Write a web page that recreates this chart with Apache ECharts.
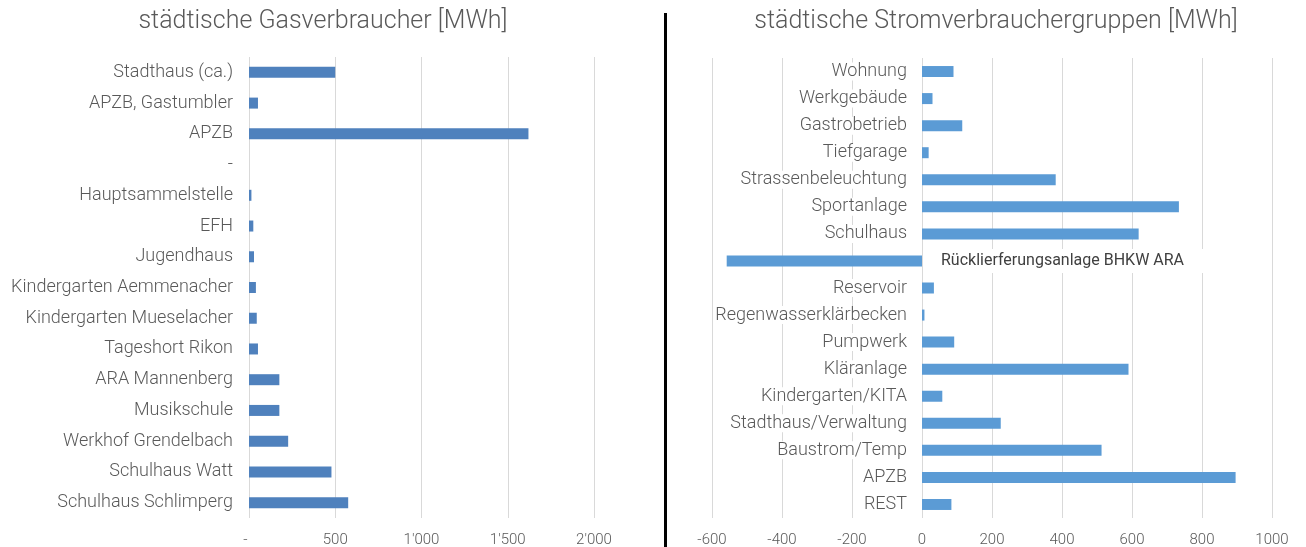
<!DOCTYPE html>
<html>
<head>
<meta charset="utf-8">
<script src="https://cdn.jsdelivr.net/npm/echarts@6/dist/echarts.min.js"></script>
<style>
  html, body { margin: 0; padding: 0; background: #fff; }
  #chart { width: 1306px; height: 547px; }
</style>
</head>
<body>
<div id="chart"></div>
<script>
// Gasverbraucher (von oben nach unten)
var gasNamen = ['Stadthaus (ca.)', 'APZB, Gastumbler', 'APZB', '-', 'Hauptsammelstelle', 'EFH',
    'Jugendhaus', 'Kindergarten Aemmenacher', 'Kindergarten Mueselacher', 'Tageshort Rikon',
    'ARA Mannenberg', 'Musikschule', 'Werkhof Grendelbach', 'Schulhaus Watt', 'Schulhaus Schlimperg'];
var gasWerte = [500, 52, 1620, 0, 14, 25, 29, 40, 45, 52, 176, 176, 227, 478, 575];

// Stromverbrauchergruppen (von oben nach unten)
var stromNamen = ['Wohnung', 'Werkgebäude', 'Gastrobetrieb', 'Tiefgarage', 'Strassenbeleuchtung',
    'Sportanlage', 'Schulhaus', 'Rücklierferungsanlage BHKW ARA', 'Reservoir', 'Regenwasserklärbecken',
    'Pumpwerk', 'Kläranlage', 'Kindergarten/KITA', 'Stadthaus/Verwaltung', 'Baustrom/Temp', 'APZB', 'REST'];
var stromWerte = [90, 30, 115, 19, 382, 734, 619, -558, 34, 7, 92, 590, 58, 225, 513, 896, 84];

var grau = '#595959';
var schrift = 'Roboto';

var stromMin = -600, stromMax = 1000, stromBreite = 560;

var chart = echarts.init(document.getElementById('chart'));

function tausender(v) { //1'000 Schreibweise, 0 als "-"
    if (v === 0) return '-  ';
    return String(v).replace(/\B(?=(\d{3})+(?!\d))/g, "'");
}

var stromDaten = stromWerte.map(function (v, i) {
    if (v < 0) { //Beschriftung der negativen Kategorie rechts der Nulllinie
        return {
            value: v,
            label: {
                show: true,
                position: 'right',
                distance: 1,
                formatter: stromNamen[i],
                color: '#404040',
                fontFamily: schrift,
                fontSize: 16,
                backgroundColor: '#fff',
                padding: [4, 20, 4, 18]
            }
        };
    }
    return v;
});

var option = {
    animation: false,
    title: [
        {
            text: 'städtische Gasverbraucher [MWh]',
            left: 318, top: 4, textAlign: 'center',
            textStyle: { color: grau, fontFamily: schrift, fontWeight: 300, fontSize: 25 }
        },
        {
            text: 'städtische Stromverbrauchergruppen [MWh]',
            left: 991, top: 4, textAlign: 'center',
            textStyle: { color: grau, fontFamily: schrift, fontWeight: 300, fontSize: 25 }
        }
    ],
    grid: [
        { left: 249, top: 57, width: 345, height: 461, outerBoundsMode: 'none' },
        { left: 712, top: 58, width: stromBreite, height: 460, outerBoundsMode: 'none' }
    ],
    xAxis: [
        {
            gridIndex: 0, type: 'value', min: 0, max: 2000, interval: 500,
            axisLine: { show: false }, axisTick: { show: false },
            splitLine: { lineStyle: { color: '#d9d9d9' } },
            axisLabel: { color: grau, fontFamily: schrift, fontWeight: 300, fontSize: 15, margin: 15, formatter: tausender }
        },
        {
            gridIndex: 1, type: 'value', min: stromMin, max: stromMax, interval: 200,
            axisLine: { show: false }, axisTick: { show: false },
            splitLine: { lineStyle: { color: '#d9d9d9' } },
            axisLabel: { color: grau, fontFamily: schrift, fontWeight: 300, fontSize: 15, margin: 15,
                formatter: function (v) { return String(v); } }
        }
    ],
    yAxis: [
        {
            gridIndex: 0, type: 'category', inverse: true, data: gasNamen,
            axisLine: { show: false }, axisTick: { show: false },
            axisLabel: { color: grau, fontFamily: schrift, fontWeight: 300, fontSize: 18, margin: 16 }
        },
        {
            gridIndex: 1, type: 'category', inverse: true, data: stromNamen,
            // Achse an die Nulllinie schieben
            offset: -(0 - stromMin) / (stromMax - stromMin) * stromBreite,
            z: 5,
            axisLine: { show: false }, axisTick: { show: false },
            axisLabel: {
                color: grau, fontFamily: schrift, fontWeight: 300, fontSize: 18, margin: 15,
                backgroundColor: '#fff',
                formatter: function (name, i) { return stromWerte[i] < 0 ? '' : name; }
            }
        }
    ],
    series: [
        {
            type: 'bar', xAxisIndex: 0, yAxisIndex: 0, data: gasWerte,
            barWidth: 11, itemStyle: { color: '#4f81bd' }
        },
        {
            type: 'bar', xAxisIndex: 1, yAxisIndex: 1, data: stromDaten,
            barWidth: 11, itemStyle: { color: '#5b9bd5' }
        }
    ],
    graphic: [
        { type: 'rect', shape: { x: 664, y: 13, width: 3, height: 534 }, style: { fill: '#000' } }
    ]
};

chart.setOption(option);
</script>
</body>
</html>
